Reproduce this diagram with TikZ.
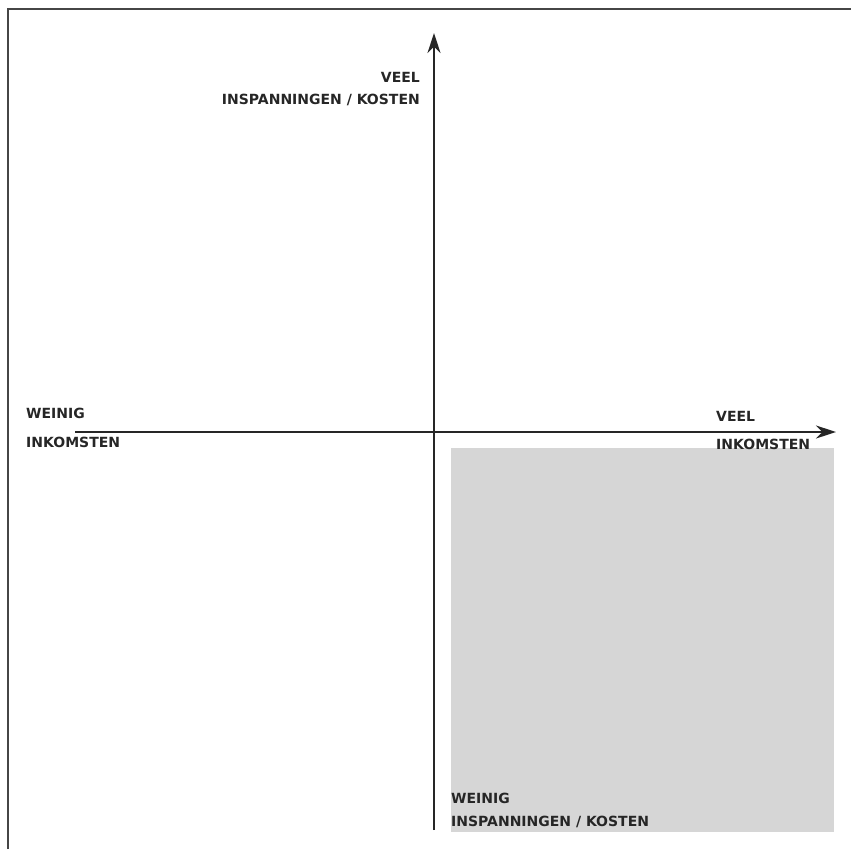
\documentclass[tikz,border=0pt]{standalone}
\usepackage{fontspec}
\setmainfont{DejaVu Sans}
\usepackage{tikz}
\usetikzlibrary{arrows.meta, positioning}
\definecolor{quadgray}{RGB}{214,214,214}
\definecolor{framegray}{RGB}{70,70,70}

\begin{document}
\begin{tikzpicture}[
    x=1pt, y=-1pt,
    >={Stealth[length=20pt, width=13pt]},
    lbl/.style={inner sep=0pt, font=\fontsize{14}{23}\selectfont\bfseries, text=black!85},
    axis/.style={->, line width=2pt, black!85},
]
    \useasboundingbox (0,0) rectangle (851,849);
    % frame
    \draw[framegray, line width=2pt] (8,849) -- (8,9) -- (851,9);
    % shaded quadrant
    \fill[quadgray] (451,448) rectangle (834,832);
    % axes
    \coordinate (yfoot) at (434,830);
    \coordinate (ytip) at (434,33);
    \coordinate (xfoot) at (75,432);
    \coordinate (xtip) at (836,432);
    \draw[axis] (yfoot) -- (ytip);
    \draw[axis] (xfoot) -- (xtip);
    % labels
    \node[lbl, anchor=base east] (topveel) at (420,82) {VEEL};
    \node[lbl, anchor=base east] (topkost) at (420,104) {INSPANNINGEN / KOSTEN};
    \node[lbl, anchor=base west] (leftweinig) at (26,418) {WEINIG};
    \node[lbl, anchor=base west] (leftink) at (26,447) {INKOMSTEN};
    \node[lbl, anchor=base west] (rightveel) at (716,421) {VEEL};
    \node[lbl, anchor=base west] (rightink) at (716,449) {INKOMSTEN};
    \node[lbl, anchor=base west] (botweinig) at (451,803) {WEINIG};
    \node[lbl, anchor=base west] (botkost) at (451,826) {INSPANNINGEN / KOSTEN};
\end{tikzpicture}
\end{document}
